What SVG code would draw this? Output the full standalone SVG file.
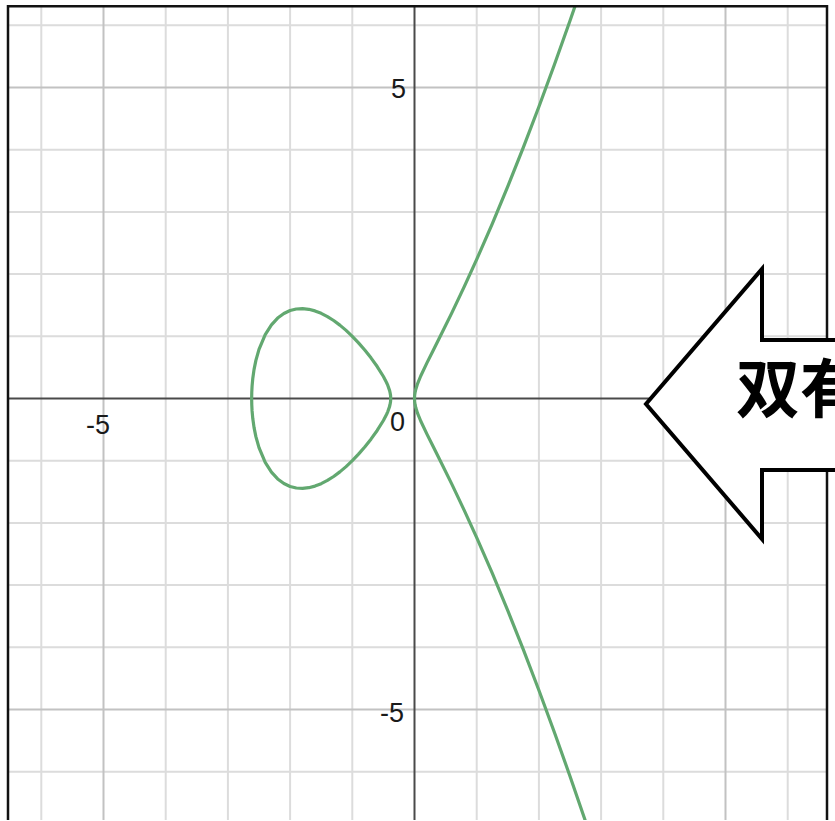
<svg xmlns="http://www.w3.org/2000/svg" width="835" height="821" viewBox="0 0 835 821">
  <style>
    .minor { stroke: #dcdcdc; stroke-width: 2; fill: none; }
    .major { stroke: #c2c2c2; stroke-width: 2; fill: none; }
    .axis { stroke: #4a4a4a; stroke-width: 2; fill: none; }
    .frame { stroke: #111; stroke-width: 2.5; fill: none; }
    .curve { stroke: #62a870; stroke-width: 3.2; fill: none; stroke-linejoin: round; stroke-linecap: round; }
    .tick { font-family: "Liberation Sans", Arial, sans-serif; font-size: 27px; fill: #1a1a1a; }
    .arrow { fill: #ffffff; stroke: #000000; stroke-width: 4; stroke-linejoin: miter; }
    .arrowtext { font-family: "Noto Sans CJK SC", "Noto Sans CJK JP", sans-serif; font-size: 64px; font-weight: bold; fill: #000; }
  </style>
  <defs>
    <clipPath id="plotclip">
      <rect x="8" y="6" width="819" height="814"/>
    </clipPath>
  </defs>
  <rect x="0" y="0" width="835" height="821" fill="#ffffff"/>

  <g id="grid" clip-path="url(#plotclip)">
    <path class="minor" d="M41.3,6V820 M165.7,6V820 M227.9,6V820 M290.1,6V820 M352.3,6V820 M476.7,6V820 M538.9,6V820 M601.1,6V820 M663.3,6V820 M787.7,6V820"/>
    <path class="minor" d="M8,25.3H827 M8,149.7H827 M8,211.9H827 M8,274.1H827 M8,336.3H827 M8,460.7H827 M8,522.9H827 M8,585.1H827 M8,647.3H827 M8,771.7H827"/>
    <path class="major" d="M103.5,6V820 M725.5,6V820 M8,87.5H827 M8,709.5H827"/>
  </g>

  <g id="axes">
    <path class="axis" d="M8,398.5H827 M414.5,6V820"/>
  </g>

  <g id="labels">
    <text class="tick" x="406" y="97.7" text-anchor="end">5</text>
    <text class="tick" x="404" y="722" text-anchor="end">-5</text>
    <text class="tick" x="405" y="431" text-anchor="end">0</text>
    <text class="tick" x="98" y="434" text-anchor="middle">-5</text>
  </g>

  <g id="curve" clip-path="url(#plotclip)">
    <path class="curve" d="M251.66,398.5 L251.77,392.28 252.08,386.06 252.78,378.44 254.02,369.61 255.89,360.35 259.0,349.32 265.22,334.58 271.44,324.83 277.66,318.07 283.88,313.47 290.1,310.54 296.32,308.99 302.54,308.62 308.76,309.29 314.98,310.89 321.2,313.33 327.42,316.55 333.64,320.49 339.86,325.12 346.08,330.39 352.3,336.3 358.52,342.83 364.74,350.0 370.96,357.85 377.18,366.54 383.4,376.51 386.51,382.48 387.83,385.46 389.62,390.63 390.01,392.28 390.56,395.39 390.74,398.5 390.56,401.61 390.01,404.72 389.62,406.37 387.83,411.54 386.51,414.52 383.4,420.49 377.18,430.46 370.96,439.15 364.74,447.0 358.52,454.17 352.3,460.7 346.08,466.61 339.86,471.88 333.64,476.51 327.42,480.45 321.2,483.67 314.98,486.11 308.76,487.71 302.54,488.38 296.32,488.01 290.1,486.46 283.88,483.53 277.66,478.93 271.44,472.17 265.22,462.42 259.0,447.68 255.89,436.65 254.02,427.39 252.78,418.56 252.08,410.94 251.77,404.72 Z"/>
    <path class="curve" d="M585.55,-24.44 L570.0,20.79 554.45,64.55 538.9,106.76 523.35,147.4 507.8,186.43 492.25,223.78 476.7,259.41 464.26,286.68 451.82,312.85 439.38,338.07 433.16,350.44 426.94,362.88 420.72,376.0 417.61,383.57 415.74,389.44 415.1,392.28 414.66,395.39 414.5,398.5 414.66,401.61 415.1,404.72 415.74,407.56 417.61,413.43 420.72,421.0 426.94,434.12 433.16,446.56 439.38,458.93 451.82,484.15 464.26,510.32 476.7,537.59 492.25,573.22 507.8,610.57 523.35,649.6 538.9,690.24 554.45,732.45 570.0,776.21 585.55,821.44"/>
  </g>

  <g id="frame">
    <path class="frame" d="M8,820V6.3H827V820"/>
  </g>

  <g id="arrow">
    <polygon class="arrow" points="850,340 762,340 762,269 646,404 762,539 762,470 850,470"/>
    <text class="arrowtext" x="736" y="412">双有</text>
  </g>
</svg>
